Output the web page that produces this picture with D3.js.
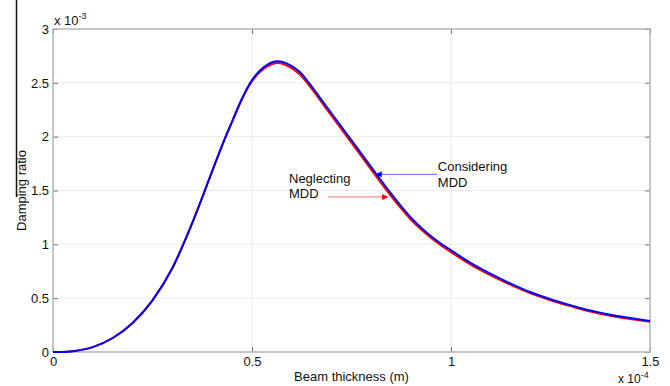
<!DOCTYPE html>
<html>
<head>
<meta charset="utf-8">
<script src="https://cdn.jsdelivr.net/npm/d3@7"></script>
<style>
body{margin:0;background:#fff;}
svg{display:block;font-family:"Liberation Sans",Arial,sans-serif;}
</style>
</head>
<body>
<div id="chart"></div>
<script>
// thickness in 1e-4 m, damping ratio in 1e-3
const thickness = [0,0.02,0.05,0.1,0.15,0.2,0.25,0.3,0.35,0.4,0.425,0.45,0.475,0.5,0.52,0.54,0.563,0.58,0.6,0.62,0.643,0.67,0.7,0.75,0.8,0.825,0.85,0.875,0.9,0.925,0.95,0.975,1.0,1.05,1.1,1.15,1.2,1.25,1.3,1.35,1.4,1.45,1.5];
const considering = [0,0.001,0.008,0.045,0.13,0.27,0.48,0.78,1.2,1.68,1.92,2.14,2.355,2.525,2.615,2.672,2.7,2.69,2.655,2.6,2.5,2.365,2.215,1.965,1.715,1.59,1.468,1.352,1.245,1.155,1.075,1.005,0.945,0.825,0.725,0.635,0.555,0.49,0.435,0.385,0.345,0.315,0.288];
const neglecting = [0,0.001,0.008,0.045,0.13,0.27,0.48,0.78,1.2,1.68,1.92,2.14,2.35,2.515,2.6,2.655,2.685,2.673,2.635,2.578,2.478,2.343,2.192,1.942,1.692,1.567,1.446,1.331,1.226,1.137,1.058,0.989,0.928,0.81,0.712,0.623,0.544,0.48,0.426,0.376,0.337,0.307,0.28];
const xTicks = [0,0.5,1,1.5];
const yTicks = [0,0.5,1,1.5,2,2.5,3];

const W = 670, H = 386;
const m = {left:53, right:20, top:29, bottom:34};

const svg = d3.select("#chart").append("svg")
    .attr("width",W).attr("height",H);

const x = d3.scaleLinear().domain([0,1.5]).range([m.left, W-m.right]);
const y = d3.scaleLinear().domain([0,3]).range([H-m.bottom, m.top]);

// stray border line on the left edge
svg.append("line")
    .attr("x1",16.5).attr("x2",16.5).attr("y1",0).attr("y2",197)
    .attr("stroke","#111").attr("stroke-width",1.5);

// grid
const grid = svg.append("g").attr("stroke","#ebebeb").attr("stroke-width",1);
grid.selectAll(".gx").data(xTicks.slice(1,-1)).enter().append("line")
    .attr("x1",d=>x(d)).attr("x2",d=>x(d)).attr("y1",y(0)).attr("y2",y(3));
grid.selectAll(".gy").data(yTicks.slice(1,-1)).enter().append("line")
    .attr("x1",x(0)).attr("x2",x(1.5)).attr("y1",d=>y(d)).attr("y2",d=>y(d));

// axes (ticks inward)
svg.append("g")
    .attr("transform",`translate(0,${y(0)})`)
    .call(d3.axisBottom(x).tickValues(xTicks).tickSize(-5).tickPadding(5).tickFormat(d3.format("")))
    .call(g=>g.select(".domain").remove());
svg.append("g")
    .attr("transform",`translate(${x(0)},0)`)
    .call(d3.axisLeft(y).tickValues(yTicks).tickSize(-5).tickPadding(4).tickFormat(d3.format("")))
    .call(g=>g.select(".domain").remove());
svg.append("g")
    .attr("transform",`translate(${x(1.5)},0)`)
    .call(d3.axisRight(y).tickValues(yTicks).tickSize(-5).tickFormat(""))
    .call(g=>g.select(".domain").remove());
svg.append("g")
    .attr("transform",`translate(0,${y(3)})`)
    .call(d3.axisTop(x).tickValues(xTicks).tickSize(-5).tickFormat(""))
    .call(g=>g.select(".domain").remove());
svg.selectAll(".tick line").attr("stroke","#777");
svg.selectAll(".tick text").attr("fill","#111").style("font-size","13px").style("font-family","Liberation Sans, Arial, sans-serif");

svg.append("rect")
    .attr("x",x(0)).attr("y",y(3))
    .attr("width",x(1.5)-x(0)).attr("height",y(0)-y(3))
    .attr("fill","none").attr("stroke","#b4b4b4").attr("stroke-width",1.5);

// curves
const line = d3.line()
    .x((d,i)=>x(thickness[i]))
    .y(d=>y(d))
    .curve(d3.curveMonotoneX);
svg.append("path").datum(neglecting)
    .attr("d",line).attr("fill","none").attr("stroke","#ff0000").attr("stroke-width",2);
svg.append("path").datum(considering)
    .attr("d",line).attr("fill","none").attr("stroke","#0000ff").attr("stroke-width",2);

// annotations
const defs = svg.append("defs");
[["arB","#0000ff"],["arR","#ff0000"]].forEach(([id,c])=>{
    defs.append("marker").attr("id",id)
        .attr("viewBox","0 0 10 10").attr("refX",10).attr("refY",5)
        .attr("markerWidth",7).attr("markerHeight",6).attr("orient","auto")
        .append("path").attr("d","M0,0L10,5L0,10z").attr("fill",c);
});
svg.append("line")
    .attr("x1",x(0.965)).attr("y1",y(1.65)).attr("x2",x(0.811)).attr("y2",y(1.65))
    .attr("stroke","#6666ff").attr("stroke-width",1).attr("marker-end","url(#arB)");
svg.append("line")
    .attr("x1",x(0.691)).attr("y1",y(1.44)).attr("x2",x(0.842)).attr("y2",y(1.44))
    .attr("stroke","#ff7070").attr("stroke-width",1).attr("marker-end","url(#arR)");

const ann = svg.append("g").attr("fill","#111").style("font-size","13px");
ann.append("text").attr("x",x(0.967)).attr("y",y(1.68)).text("Considering");
ann.append("text").attr("x",x(0.967)).attr("y",y(1.53)).text("MDD");
ann.append("text").attr("x",x(0.593)).attr("y",y(1.57)).text("Neglecting");
ann.append("text").attr("x",x(0.593)).attr("y",y(1.43)).text("MDD");

// axis titles and exponents
svg.append("text")
    .attr("transform",`translate(25.5,${(y(0)+y(3))/2}) rotate(-90)`)
    .attr("text-anchor","middle").style("font-size","13px").attr("fill","#111")
    .text("Damping ratio");
svg.append("text")
    .attr("x",(x(0)+x(1.5))/2).attr("y",381)
    .attr("text-anchor","middle").style("font-size","13px").attr("fill","#111")
    .text("Beam thickness (m)");

const e1 = svg.append("text").attr("x",x(0)+1).attr("y",25).style("font-size","13px").attr("fill","#111");
e1.append("tspan").text("x 10");
e1.append("tspan").attr("dy",-6).style("font-size","9px").text("-3");
const e2 = svg.append("text").attr("x",x(1.5)-32).attr("y",383).style("font-size","12px").attr("fill","#111");
e2.append("tspan").text("x 10");
e2.append("tspan").attr("dy",-5).style("font-size","9px").text("-4");
</script>
</body>
</html>
